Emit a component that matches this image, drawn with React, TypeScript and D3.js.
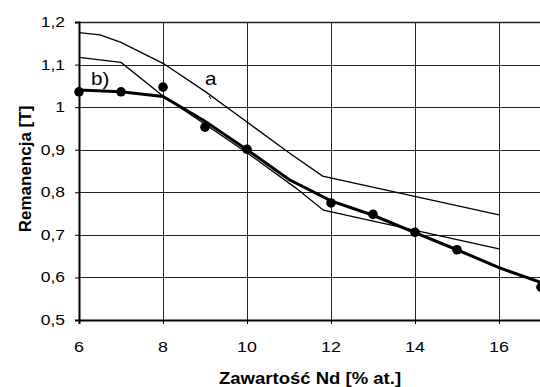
import React, { useEffect, useRef } from 'react';
import * as d3 from 'd3';

// curve "a" - upper thin line
const curveAx = [6, 6.5, 7, 8, 9, 10, 11, 11.8, 16];
const curveAy = [1.175, 1.17, 1.152, 1.103, 1.037, 0.965, 0.893, 0.838, 0.747];

// lower thin line
const curveLx = [6, 7, 8, 9, 10, 11.15, 11.82, 16];
const curveLy = [1.117, 1.105, 1.026, 0.96, 0.893, 0.811, 0.758, 0.667];

// curve "b" - thick line
const curveBx = [6, 7, 8, 9, 10, 11, 12, 13, 14, 15, 16, 17];
const curveBy = [1.04, 1.036, 1.025, 0.967, 0.9, 0.83, 0.78, 0.746, 0.705, 0.665, 0.623, 0.588];

// measured points
const pointX = [6, 7, 8, 9, 10, 12, 13, 14, 15, 17];
const pointY = [1.036, 1.036, 1.047, 0.953, 0.901, 0.775, 0.748, 0.706, 0.665, 0.577];

const xTicks = [6, 8, 10, 12, 14, 16];
const yTicks = [0.5, 0.6, 0.7, 0.8, 0.9, 1.0, 1.1, 1.2];

const W = 540;
const H = 387;

const App: React.FC = () => {
  const svgRef = useRef<SVGSVGElement>(null);

  useEffect(() => {
    if (!svgRef.current) return;
    const svg = d3.select(svgRef.current);
    svg.selectAll('*').remove();

    const left = 79, right = 541, top = 22, bottom = 320;
    const x = d3.scaleLinear().domain([6, 17]).range([left, right]);
    const y = d3.scaleLinear().domain([0.5, 1.2]).range([bottom, top]);
    const font = 'Liberation Sans, Arial, sans-serif';

    // text in the picture is slightly stretched horizontally
    const label = (tx: number, ty: number, str: string, size: number, sx: number,
      anchor = 'start', weight = 'normal') =>
      svg.append('text')
        .attr('transform', `translate(${tx},${ty}) scale(${sx},1)`)
        .attr('text-anchor', anchor)
        .style('font-family', font).style('font-size', `${size}px`).style('font-weight', weight)
        .attr('fill', '#000')
        .text(str);

    // grid
    const grid = svg.append('g');
    xTicks.filter(t => t !== 6).forEach(t => {
      grid.append('line')
        .attr('x1', Math.round(x(t)) + 0.5).attr('x2', Math.round(x(t)) + 0.5)
        .attr('y1', top).attr('y2', bottom)
        .attr('stroke', '#222').attr('stroke-width', 1);
    });
    yTicks.filter(t => t !== 0.5).forEach(t => {
      grid.append('line')
        .attr('x1', left).attr('x2', right)
        .attr('y1', Math.round(y(t)) + 0.5).attr('y2', Math.round(y(t)) + 0.5)
        .attr('stroke', '#222').attr('stroke-width', t === 1.2 ? 1.6 : 1);
    });

    // axes (lines and ticks from d3, labels drawn separately to allow stretch)
    const xAxis = d3.axisBottom(x).tickValues(xTicks).tickSize(4).tickFormat(() => '');
    const gx = svg.append('g').attr('transform', `translate(0,${bottom})`).call(xAxis);
    gx.select('.domain').attr('stroke', '#000').attr('stroke-width', 2);
    gx.selectAll('.tick line').attr('stroke', '#000');

    const yAxis = d3.axisLeft(y).tickValues(yTicks).tickSize(4).tickFormat(() => '');
    const gy = svg.append('g').attr('transform', `translate(${left},0)`).call(yAxis);
    gy.select('.domain').attr('stroke', '#000').attr('stroke-width', 2);
    gy.selectAll('.tick line').attr('stroke', '#000');

    const yFmt = (d: number) => (d === 1 ? '1' : d3.format('.1f')(d).replace('.', ','));
    yTicks.forEach(t => label(65, y(t) + 5, yFmt(t), 14, 1.25, 'end'));
    xTicks.forEach(t => label(x(t), 351.5, String(t), 15.5, 1.15, 'middle'));

    const line = d3.line<[number, number]>().x(d => x(d[0])).y(d => y(d[1]));
    const zip = (xs: number[], ys: number[]) => xs.map((v, i) => [v, ys[i]] as [number, number]);

    svg.append('path').datum(zip(curveAx, curveAy)).attr('d', line)
      .attr('fill', 'none').attr('stroke', '#000').attr('stroke-width', 1.3);
    svg.append('path').datum(zip(curveLx, curveLy)).attr('d', line)
      .attr('fill', 'none').attr('stroke', '#000').attr('stroke-width', 1.3);
    svg.append('path').datum(zip(curveBx, curveBy)).attr('d', line)
      .attr('fill', 'none').attr('stroke', '#000').attr('stroke-width', 3);

    svg.append('g').selectAll('circle')
      .data(zip(pointX, pointY))
      .enter().append('circle')
      .attr('cx', d => x(d[0])).attr('cy', d => y(d[1]))
      .attr('r', 4.8).attr('fill', '#000');

    // labels on curves
    label(205, 85, 'a', 18, 1.15);
    svg.append('line').attr('x1', 209).attr('y1', 96).attr('x2', 211).attr('y2', 99)
      .attr('stroke', '#000').attr('stroke-width', 1);
    label(91, 85, 'b)', 18, 1.15);

    // axis titles
    label((left + right) / 2, 384, 'Zawartość Nd [% at.]', 17, 1.09, 'middle', 'bold');
    svg.append('text')
      .attr('transform', 'rotate(-90)')
      .attr('x', -169).attr('y', 31)
      .attr('text-anchor', 'middle')
      .style('font-family', font).style('font-size', '17px').style('font-weight', 'bold')
      .text('Remanencja [T]');
  }, []);

  return (
    <div style={{ position: 'absolute', left: 0, top: 0 }}>
      <svg ref={svgRef} width={W} height={H} style={{ display: 'block', background: '#fff' }} />
    </div>
  );
};

export default App;
